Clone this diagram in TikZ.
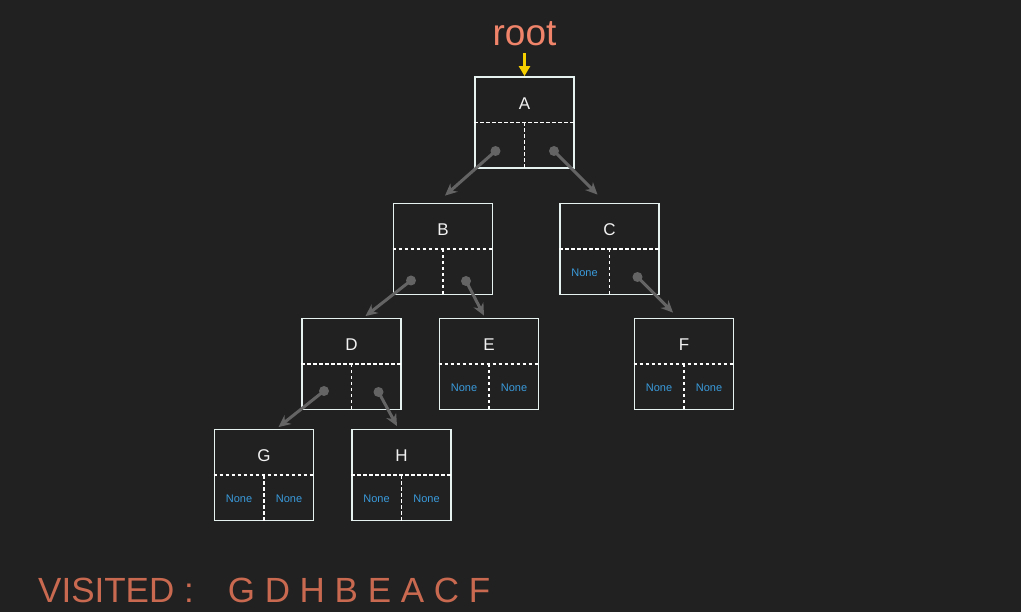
\documentclass[tikz,border=0pt]{standalone}
\usepackage{fontspec}
\setmainfont{Liberation Sans}
\usetikzlibrary{arrows.meta}

\definecolor{bg}{HTML}{212121}
\definecolor{edge}{HTML}{E6F2F0}
\definecolor{ptr}{HTML}{646464}
\definecolor{nonecol}{HTML}{3A9BDC}
\definecolor{rootcol}{HTML}{F0846A}
\definecolor{visitcol}{HTML}{C96A50}
\definecolor{marker}{HTML}{F7D000}

\begin{document}
\begin{tikzpicture}[
  x=1pt, y=-1pt,
  treenode/.style={draw=edge, line width=1.8pt, minimum width=99pt, minimum height=91pt, inner sep=0pt},
  key/.style={text=white!90!gray, font=\fontsize{17}{17}\selectfont},
  nil/.style={text=nonecol, font=\fontsize{11}{11}\selectfont},
  split/.style={draw=white, line width=1.2pt, dash pattern=on 3.5pt off 2.5pt},
  pointer/.style={draw=ptr, line width=3pt, -{Stealth[length=12pt,width=11pt]}}
]
\fill[bg] (0,0) rectangle (1021,612);
\useasboundingbox (0,0) rectangle (1021,612);

% tree nodes
\foreach \name/\x/\y in {A/524.5/122.5, B/443/249, C/609.5/249, D/351.5/364,
                         E/489/364, F/684/364, G/264/475, H/401.5/475}{
  \node[treenode] (\name) at (\x,\y) {};
  \node[key] (\name-key) at ([yshift=19pt]\name.center) {\name};
  \draw[split] (\name.west) -- (\name.east);
  \draw[split] (\name.center) -- (\name.south);
}

% empty children
\foreach \name/\side in {C/-1, E/-1, E/1, F/-1, F/1, G/-1, G/1, H/-1, H/1}
  \node[nil] (\name-nil\side) at ([xshift=\side*25pt, yshift=-24pt]\name.center) {None};

% child pointers
\foreach \from/\dx/\dy/\to/\tx/\ty in {A/-29/28.5/B/2/7, A/29.5/28.5/C/-12/8,
    B/-32/31.5/D/14/1.5, B/23/32/E/-5/2, C/28/28/F/-11/5,
    D/-27.5/27/G/14.5/1.5, D/27/28/H/-4.5/2.5}{
  \coordinate (\from-\to) at ([xshift=\dx pt, yshift=-\dy pt]\from.center);
  \fill[ptr] (\from-\to) circle (5pt);
  \draw[pointer] (\from-\to) -- ([xshift=\tx pt, yshift=\ty pt]\to.north);
}

\node[text=rootcol, font=\fontsize{37}{37}\selectfont, anchor=base] (root) at (524.5,46) {root};
\draw[marker, line width=2.4pt, shorten <=3pt, -{Triangle[length=10pt,width=11pt]}] (root) -- (A.north);

\node[text=visitcol, font=\fontsize{35}{35}\selectfont, anchor=base west, inner sep=0pt] (visited)
  at (38,602.5) {VISITED :\hspace{34pt}G D H B E A C F};
\end{tikzpicture}
\end{document}
